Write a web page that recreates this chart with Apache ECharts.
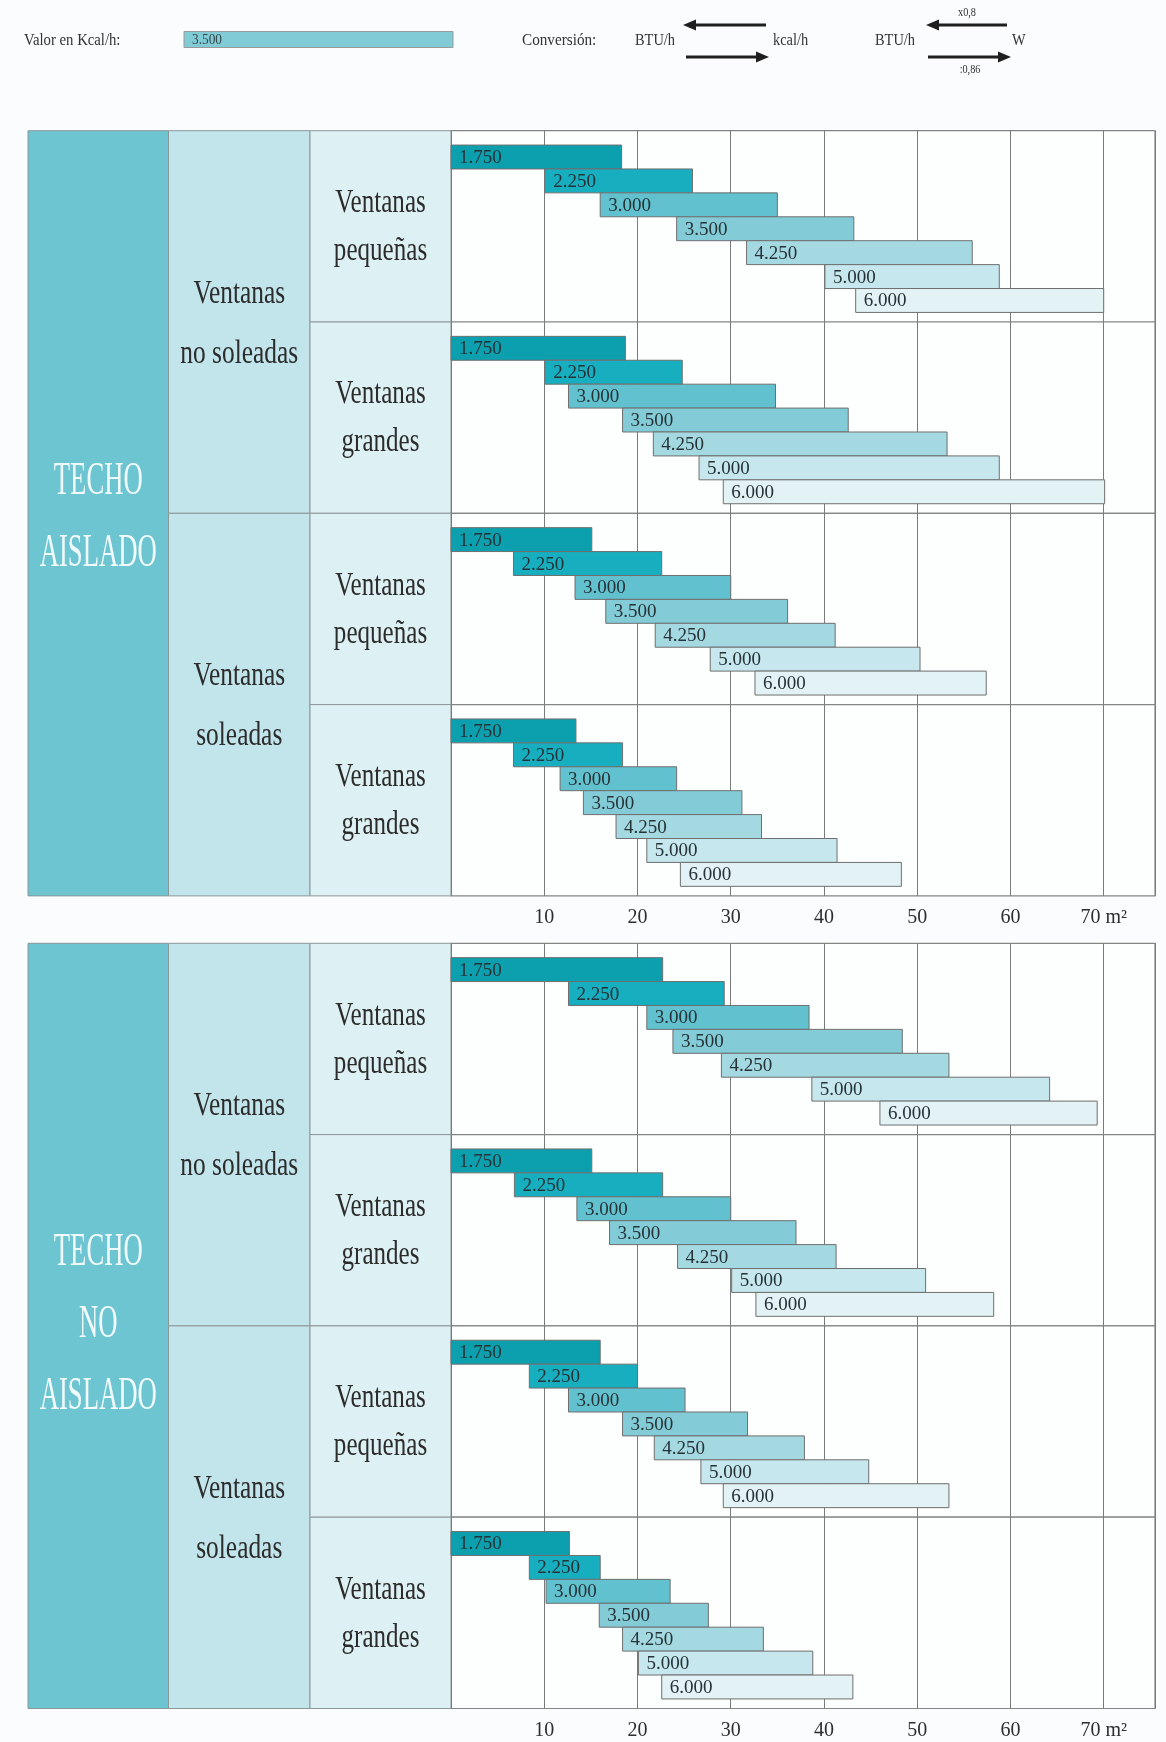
<!DOCTYPE html>
<html>
<head>
<meta charset="utf-8">
<script src="https://cdn.jsdelivr.net/npm/echarts@6/dist/echarts.min.js"></script>
<style>
html,body{margin:0;padding:0;background:#fbfcfd;}
#chart{width:1166px;height:1742px;}
</style>
</head>
<body>
<div id="chart"></div>
<script>
// ---------- DATA ----------
const kcalLabels = ['1.750', '2.250', '3.000', '3.500', '4.250', '5.000', '6.000'];
const xTickValues = [10, 20, 30, 40, 50, 60, 70];
const areaUnit = 'm²';

// [from m², to m²] for each kcal/h row
const aisladoNoSolPeq = [[0, 18.3], [10.1, 25.9], [16.0, 35.0], [24.2, 43.2], [31.7, 55.9], [40.1, 58.8], [43.4, 70.0]];
const aisladoNoSolGra = [[0, 18.7], [10.1, 24.8], [12.6, 34.8], [18.4, 42.6], [21.7, 53.2], [26.6, 58.8], [29.2, 70.1]];
const aisladoSolPeq   = [[0, 15.1], [6.7, 22.6], [13.3, 30.0], [16.6, 36.1], [21.9, 41.2], [27.8, 50.3], [32.6, 57.4]];
const aisladoSolGra   = [[0, 13.4], [6.7, 18.4], [11.7, 24.2], [14.2, 31.2], [17.7, 33.3], [21.0, 41.4], [24.6, 48.3]];
const noAisNoSolPeq   = [[0, 22.7], [12.6, 29.3], [21.0, 38.4], [23.8, 48.4], [29.0, 53.4], [38.7, 64.2], [46.0, 69.3]];
const noAisNoSolGra   = [[0, 15.1], [6.8, 22.7], [13.5, 30.0], [17.0, 37.0], [24.3, 41.3], [30.1, 50.9], [32.7, 58.2]];
const noAisSolPeq     = [[0, 16.0], [8.4, 20.0], [12.6, 25.1], [18.4, 31.8], [21.8, 37.9], [26.8, 44.8], [29.2, 53.4]];
const noAisSolGra     = [[0, 12.7], [8.4, 16.0], [10.2, 23.5], [15.9, 27.6], [18.4, 33.5], [20.1, 38.8], [22.6, 43.1]];

const blockTitles = ['TECHO\nAISLADO', 'TECHO\nNO\nAISLADO'];
const sunTitles = ['Ventanas\nno soleadas', 'Ventanas\nsoleadas'];
const windowTitles = ['Ventanas\npequeñas', 'Ventanas\ngrandes'];
const panels = [aisladoNoSolPeq, aisladoNoSolGra, aisladoSolPeq, aisladoSolGra,
                noAisNoSolPeq, noAisNoSolGra, noAisSolPeq, noAisSolGra];

// ---------- STYLE / LAYOUT ----------
const barColors = ['#0c9fae', '#17afbf', '#62c1ce', '#83ccd7', '#a5d9e2', '#c5e7ed', '#e2f2f5'];
const SERIF = '"Liberation Serif", "Times New Roman", serif';
const blockTops = [130.7, 943.3];
const subH = 191.3;
const col = {x0: 28, x1: 168.5, x2: 310, x3: 451, x4: 1155};

const chart = echarts.init(document.getElementById('chart'), null, {renderer: 'canvas'});

const grids = [], xAxes = [], yAxes = [], series = [];
panels.forEach((panel, idx) => {
  const b = Math.floor(idx / 4), k = idx % 4;
  grids.push({
    left: col.x3, top: blockTops[b] + k * subH, width: col.x4 - col.x3, height: subH,
    show: true, backgroundColor: '#fdfefe', borderColor: '#858585', borderWidth: 1.2
  });
  const showLabels = (k === 3);
  xAxes.push({
    type: 'value', gridIndex: idx, min: 0, max: 75.5, interval: 10,
    axisLine: {show: false}, axisTick: {show: false},
    splitLine: {show: true, lineStyle: {color: '#7a7a7a', width: 1}},
    axisLabel: {
      show: showLabels, margin: 12, fontFamily: SERIF, fontSize: 20, color: '#2e2e2e',
      showMinLabel: true, showMaxLabel: true,
      formatter: v => xTickValues.indexOf(v) >= 0 ? (v === 70 ? v + ' ' + areaUnit : String(v)) : ''
    }
  });
  yAxes.push({type: 'value', gridIndex: idx, min: -0.6, max: 7.4, inverse: true, show: false});
  series.push({
    type: 'custom', xAxisIndex: idx, yAxisIndex: idx,
    data: panel.map((r, i) => [r[0], r[1], i]),
    renderItem: (params, api) => {
      const s = api.value(0), e = api.value(1), row = api.value(2);
      const p0 = api.coord([s, row]);
      const p1 = api.coord([e, row + 1]);
      return {
        type: 'group',
        children: [
          {type: 'rect', shape: {x: p0[0], y: p0[1], width: p1[0] - p0[0], height: p1[1] - p0[1]},
           style: {fill: barColors[row], stroke: '#6f6f6f', lineWidth: 1}},
          {type: 'text', x: p0[0] + 8, y: (p0[1] + p1[1]) / 2 + 1,
           style: {text: kcalLabels[row], font: '19px ' + SERIF, fill: '#263236',
                   align: 'left', verticalAlign: 'middle', textAlign: 'left', textVerticalAlign: 'middle'}}
        ]
      };
    }
  });
});

// ---------- GRAPHIC: label columns and header ----------
const g = [];
const cellStroke = '#8d9799';
function txt(x, y, text, size, color, scaleX, lineHeight, align) {
  return {type: 'text', x: x, y: y, scaleX: scaleX || 1, z: 10,
    style: {text: text, font: size + 'px ' + SERIF, fill: color, lineHeight: lineHeight || size * 1.2,
            align: align || 'center', verticalAlign: 'middle',
            textAlign: align || 'center', textVerticalAlign: 'middle'}};
}
blockTops.forEach((top, b) => {
  const H = subH * 4;
  g.push({type: 'rect', shape: {x: col.x0, y: top, width: col.x1 - col.x0, height: H},
          style: {fill: '#6dc5d1', stroke: cellStroke, lineWidth: 1}});
  g.push(txt((col.x0 + col.x1) / 2, top + H / 2 + (b === 0 ? 5 : -1), blockTitles[b], 46, '#f1fafb', 0.58, 72));
  for (let h = 0; h < 2; h++) {
    const y = top + h * subH * 2;
    g.push({type: 'rect', shape: {x: col.x1, y: y, width: col.x2 - col.x1, height: subH * 2},
            style: {fill: '#c2e5ec', stroke: cellStroke, lineWidth: 1}});
    g.push(txt((col.x1 + col.x2) / 2, y + subH + 2, sunTitles[h], 33, '#2c2c2c', 0.77, 60));
    for (let q = 0; q < 2; q++) {
      const yy = y + q * subH;
      g.push({type: 'rect', shape: {x: col.x2, y: yy, width: col.x3 - col.x2, height: subH},
              style: {fill: '#ddf0f3', stroke: cellStroke, lineWidth: 1}});
      g.push(txt((col.x2 + col.x3) / 2, yy + subH / 2 + 1, windowTitles[q], 33, '#2c2c2c', 0.76, 48));
    }
  }
});

// header
g.push(txt(24, 41, 'Valor en Kcal/h:', 16, '#333', 0.92, 18, 'left'));
g.push({type: 'rect', shape: {x: 184, y: 31.5, width: 269, height: 16},
        style: {fill: '#80cbd6', stroke: '#9a9a9a', lineWidth: 1}});
g.push(txt(192, 40, kcalLabels[3], 14, '#34484c', 0.95, 16, 'left'));
g.push(txt(522, 41, 'Conversión:', 16, '#333', 0.95, 18, 'left'));
g.push(txt(635, 41, 'BTU/h', 16, '#333', 0.9, 18, 'left'));
g.push(txt(773, 41, 'kcal/h', 16, '#333', 0.9, 18, 'left'));
g.push(txt(875, 41, 'BTU/h', 16, '#333', 0.9, 18, 'left'));
g.push(txt(1012, 41, 'W', 16, '#333', 0.9, 18, 'left'));
g.push(txt(967, 13, 'x0,8', 12, '#333', 0.85, 14));
g.push(txt(970, 70, ':0,86', 12, '#333', 0.85, 14));
function arrow(x1, x2, y, dir) {
  const head = 13, hw = 5.5;
  if (dir < 0) {
    g.push({type: 'line', shape: {x1: x1 + head - 2, y1: y, x2: x2, y2: y}, style: {stroke: '#1f1f1f', lineWidth: 3}});
    g.push({type: 'polygon', shape: {points: [[x1, y], [x1 + head, y - hw], [x1 + head, y + hw]]}, style: {fill: '#1f1f1f'}});
  } else {
    g.push({type: 'line', shape: {x1: x1, y1: y, x2: x2 - head + 2, y2: y}, style: {stroke: '#1f1f1f', lineWidth: 3}});
    g.push({type: 'polygon', shape: {points: [[x2, y], [x2 - head, y - hw], [x2 - head, y + hw]]}, style: {fill: '#1f1f1f'}});
  }
}
arrow(683, 766, 25, -1);
arrow(686, 769, 57, 1);
arrow(926, 1007, 25, -1);
arrow(928, 1011, 57, 1);

chart.setOption({
  backgroundColor: '#fbfcfd',
  animation: false,
  grid: grids,
  xAxis: xAxes,
  yAxis: yAxes,
  series: series,
  graphic: {elements: g}
});
</script>
</body>
</html>
